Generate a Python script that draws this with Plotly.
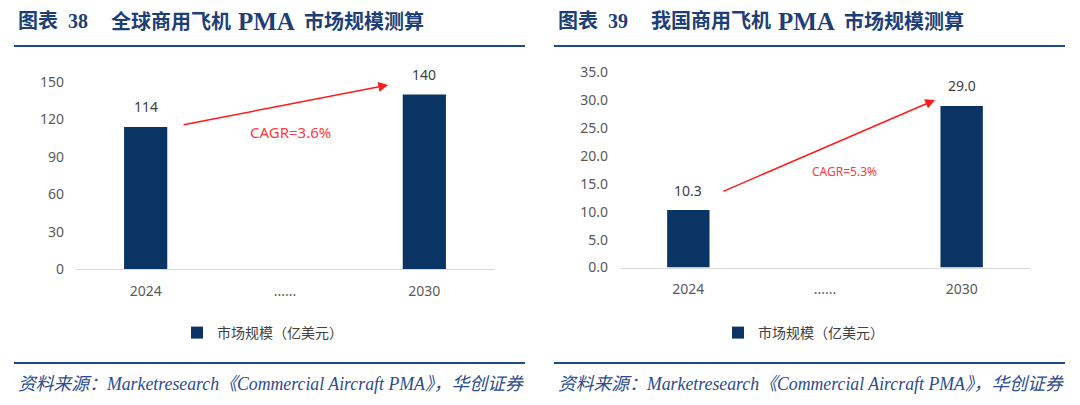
import plotly.graph_objects as go

# ---- data ----
categories = ["2024", "......", "2030"]
global_values = [114, None, 140]
china_values = [10.3, None, 29.0]
global_labels = ["114", "", "140"]
china_labels = ["10.3", "", "29.0"]
series_name = "市场规模（亿美元）"
global_ticks = [0, 30, 60, 90, 120, 150]
china_ticks = [0, 5, 10, 15, 20, 25, 30, 35]
china_tick_text = ["0.0", "5.0", "10.0", "15.0", "20.0", "25.0", "30.0", "35.0"]
global_cagr = "CAGR=3.6%"
china_cagr = "CAGR=5.3%"
title_left_parts = ["图表", "38", "全球商用飞机", "PMA", "市场规模测算"]
title_right_parts = ["图表", "39", "我国商用飞机", "PMA", "市场规模测算"]
source_text = "资料来源：Marketresearch《Commercial Aircraft PMA》，华创证券"

# page body has an 8px margin; figure is sized to fit the window
OFF = 8
W, H = 1072, 397
BAR = "#0A3464"
NAVY = "#1D3F78"
RULE = "#1F4A8A"
TICK = "#595959"
LBL = "#404040"
SANS = "Noto Sans, Noto Sans CJK SC, sans-serif"
SERIF = "Liberation Serif, Noto Sans CJK SC, serif"


def px_x(p):
    return (p - OFF) / W


def px_y(p):
    return 1 - (p - OFF) / H


fig = go.Figure()

fig.add_trace(go.Bar(
    x=categories, y=global_values, name=series_name,
    marker=dict(color=BAR, line=dict(width=0)), width=0.31,
    hoverinfo="x+y",
    xaxis="x", yaxis="y", legend="legend", showlegend=True,
))
fig.add_trace(go.Bar(
    x=categories, y=china_values, name=series_name,
    marker=dict(color=BAR, line=dict(width=0)), width=0.31,
    hoverinfo="x+y",
    xaxis="x2", yaxis="y2", legend="legend2", showlegend=True,
))

axis_common = dict(showgrid=False, zeroline=False, ticks="", automargin=False,
                   tickfont=dict(family=SANS, size=14, color=TICK))

fig.update_layout(
    width=W, height=H,
    margin=dict(l=0, r=0, t=0, b=0),
    paper_bgcolor="white", plot_bgcolor="white",
    xaxis=dict(domain=[px_x(76), px_x(494)], range=[-0.5, 2.5],
               type="category", showline=True, linecolor="#D9D9D9", linewidth=1,
               anchor="y", ticklabelstandoff=9, **axis_common),
    yaxis=dict(domain=[px_y(269), px_y(82)], range=[0, 150],
               tickvals=global_ticks, showline=False, anchor="x",
               ticklabelstandoff=11, **axis_common),
    xaxis2=dict(domain=[px_x(620), px_x(1030)], range=[-0.5, 2.5],
                type="category", showline=True, linecolor="#D9D9D9", linewidth=1,
                anchor="y2", ticklabelstandoff=9, **axis_common),
    yaxis2=dict(domain=[px_y(267.5), px_y(72.5)], range=[0, 35],
                tickvals=china_ticks, ticktext=china_tick_text, showline=False,
                anchor="x2", ticklabelstandoff=11, **axis_common),
    legend=dict(x=px_x(262.5), y=px_y(333), xanchor="center", yanchor="middle",
                orientation="h", font=dict(family=SANS, size=14, color=LBL),
                bgcolor="rgba(0,0,0,0)", itemwidth=30),
    legend2=dict(x=px_x(803.5), y=px_y(333), xanchor="center", yanchor="middle",
                 orientation="h", font=dict(family=SANS, size=14, color=LBL),
                 bgcolor="rgba(0,0,0,0)", itemwidth=30),
)

# header / footer rules
for x0, x1 in [(14, 525), (554, 1065)]:
    for yy in (46, 363):
        fig.add_shape(type="line", xref="paper", yref="paper",
                      x0=px_x(x0), x1=px_x(x1), y0=px_y(yy), y1=px_y(yy),
                      line=dict(color=RULE, width=2))

annotations = []
# title pieces: (left offset in px, font size)
title_layout = [(16, 20), (66, 20), (109, 20), (236, 25), (302, 20)]
for base, parts in [(0, title_left_parts), (540, title_right_parts)]:
    for (dx, fs), part in zip(title_layout, parts):
        annotations.append(dict(text=part, xref="paper", yref="paper",
                                x=px_x(base + dx), y=px_y(21), xanchor="left",
                                yanchor="middle", showarrow=False,
                                font=dict(family=SERIF, size=fs, color=NAVY, weight=700)))
    annotations.append(dict(text=source_text, xref="paper", yref="paper",
                            x=px_x(base + 16), y=px_y(384), xanchor="left", yanchor="middle",
                            showarrow=False,
                            font=dict(family=SERIF, size=17.8, color="#2B4C8C",
                                      style="italic")))

# value labels above bars (from the data arrays)
for xa, ya, vals, labs in [("x", "y", global_values, global_labels),
                           ("x2", "y2", china_values, china_labels)]:
    for i, (v, lab) in enumerate(zip(vals, labs)):
        if v is None:
            continue
        annotations.append(dict(x=i, y=v, xref=xa, yref=ya, text=lab, showarrow=False,
                                yanchor="middle", yshift=20,
                                font=dict(family=SANS, size=14, color=LBL)))

# CAGR arrows (data coords)
annotations.append(dict(x=1.74, y=147.6, ax=0.261, ay=115.5, xref="x", yref="y",
                        axref="x", ayref="y", text="", showarrow=True, arrowhead=2,
                        arrowsize=1.3, arrowwidth=1.5, arrowcolor="#FF1A1A"))
annotations.append(dict(x=1.036, y=110.1, xref="x", yref="y", text=global_cagr,
                        showarrow=False, font=dict(family=SANS, size=15, color="#FF3B3B")))
annotations.append(dict(x=1.805, y=30.07, ax=0.245, ay=13.55, xref="x2", yref="y2",
                        axref="x2", ayref="y2", text="", showarrow=True, arrowhead=2,
                        arrowsize=1.3, arrowwidth=1.5, arrowcolor="#FF1A1A"))
annotations.append(dict(x=1.145, y=17.2, xref="x2", yref="y2", text=china_cagr,
                        showarrow=False, font=dict(family=SANS, size=12, color="#FF3B3B")))

fig.update_layout(annotations=annotations)
fig.write_html("out.html")
